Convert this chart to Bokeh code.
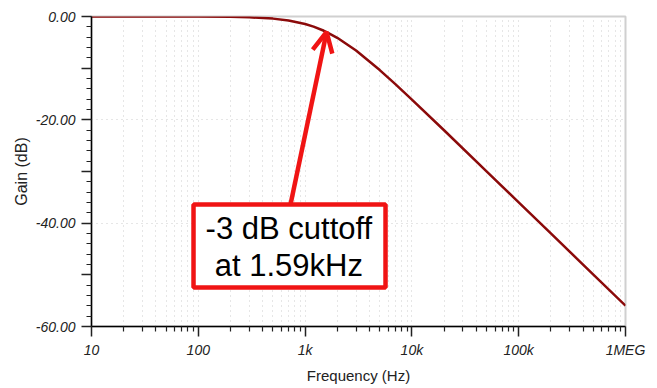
from bokeh.plotting import figure
from bokeh.models import (FixedTicker, BoxAnnotation, Label, Arrow, OpenHead, Range1d)
from bokeh.embed import file_html
from bokeh.resources import INLINE

# ---- data ----
freq_hz = [10, 20, 50, 100, 200, 300, 500, 700, 1000, 1200, 1500, 1590, 2000,
           3000, 5000, 7000, 10000, 20000, 50000, 100000, 200000, 500000, 1000000]
gain_db = [0.00, 0.00, 0.00, -0.02, -0.07, -0.15, -0.41, -0.77, -1.45, -1.96,
           -2.76, -3.01, -4.12, -6.59, -10.37, -13.09, -16.08, -22.02, -29.96,
           -35.97, -41.99, -49.95, -55.97]

x_major = [10, 100, 1000, 10000, 100000, 1000000]
x_labels = ["10", "100", "1k", "10k", "100k", "1MEG"]
y_major = [0, -10, -20, -30, -40, -50, -60]
y_labels = {0: "0.00", -10: "", -20: "-20.00", -30: "", -40: "-40.00", -50: "", -60: "-60.00"}

note_lines = ["-3 dB cuttoff", "at 1.59kHz"]
cutoff_f = 1590
cutoff_db = -3.0

FONT = "Liberation Sans"
RED = "#f01414"

p = figure(width=649, height=386, x_axis_type="log",
           x_range=Range1d(10, 1e6), y_range=Range1d(-60, 0),
           output_backend="svg", toolbar_location=None,
           min_border_left=91, min_border_right=24, min_border_top=16,
           min_border_bottom=60)

p.outline_line_color = "#d0d0d0"
p.outline_line_width = 2
p.background_fill_color = "white"
p.border_fill_color = "white"

# x axis
minor = [m * d for d in [10, 100, 1000, 10000, 100000] for m in range(2, 10)]
p.xaxis.ticker = FixedTicker(ticks=x_major, minor_ticks=minor)
p.xaxis.major_label_overrides = {t: l for t, l in zip(x_major, x_labels)}
# y axis
yminor = list(range(0, -61, -2))
p.yaxis.ticker = FixedTicker(ticks=y_major, minor_ticks=yminor)
p.yaxis.major_label_overrides = y_labels

for ax in (p.xaxis, p.yaxis):
    ax.axis_line_color = "black"
    ax.axis_line_width = 1.5
    ax.major_tick_line_color = "#222222"
    ax.minor_tick_line_color = "#222222"
    ax.major_tick_line_width = 1.5
    ax.minor_tick_line_width = 1.2
    ax.major_tick_in = 0
    ax.major_tick_out = 10
    ax.minor_tick_in = 0
    ax.minor_tick_out = 5
    ax.major_label_text_font = FONT
    ax.major_label_text_font_style = "italic"
    ax.major_label_text_font_size = "14px"
    ax.major_label_text_color = "#222222"
    ax.axis_label_text_font = FONT
    ax.axis_label_text_font_style = "normal"
    ax.axis_label_text_color = "#222222"

p.xaxis.axis_label = "Frequency (Hz)"
p.yaxis.axis_label = "Gain (dB)"
p.xaxis.axis_label_text_font_size = "15px"
p.yaxis.axis_label_text_font_size = "16px"
p.xaxis.major_label_standoff = 5
p.xaxis.axis_label_standoff = 6
p.yaxis.major_label_standoff = 6
p.yaxis.axis_label_standoff = 3

# grids
GRID = "#cccccc"
p.xgrid.grid_line_color = GRID
p.xgrid.grid_line_dash = "1 4"
p.xgrid.minor_grid_line_color = GRID
p.xgrid.minor_grid_line_dash = "1 4"
p.ygrid.ticker = FixedTicker(ticks=[-20, -40])
p.ygrid.grid_line_color = GRID
p.ygrid.grid_line_dash = "1 4"

# curve
p.line(freq_hz, gain_db, line_color="#8b0a0a", line_width=2.5)

# annotation box
box_left_f, box_right_f = 90.2, 5662
box_top_db, box_bottom_db = -36.4, -52.45
p.add_layout(BoxAnnotation(left=box_left_f, right=box_right_f,
                           top=box_top_db, bottom=box_bottom_db,
                           fill_color="white", fill_alpha=1,
                           line_color=RED, line_alpha=1, line_width=4.5,
                           level="overlay"))

text_f = 705
for txt, yv in zip(note_lines, [-41.0, -48.2]):
    p.add_layout(Label(x=text_f, y=yv, text=txt, text_align="center",
                       text_baseline="alphabetic", text_font=FONT,
                       text_font_size="31px", text_color="black", level="overlay"))

p.add_layout(Arrow(x_start=730, y_start=-36.4, x_end=cutoff_f, y_end=cutoff_db,
                   line_color=RED, line_width=4.5,
                   end=OpenHead(size=20, line_color=RED, line_width=4.5),
                   level="overlay"))

open("out.html", "w").write(file_html(p, INLINE))
